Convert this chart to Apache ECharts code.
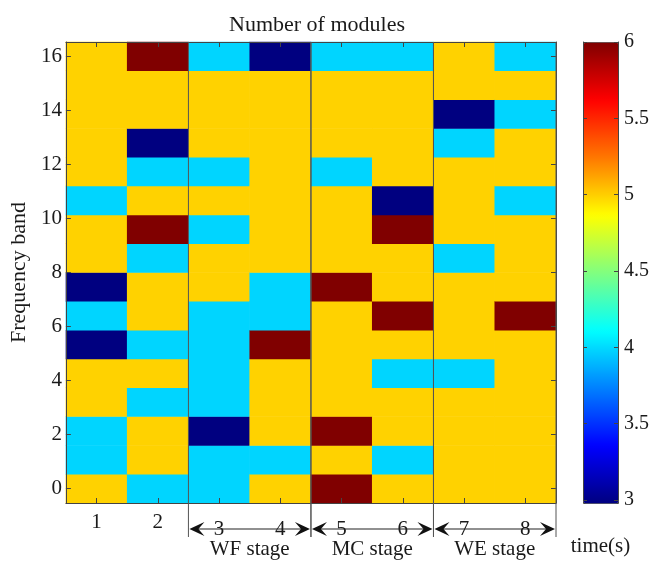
<!DOCTYPE html>
<html>
<head>
<meta charset="utf-8">
<script src="https://cdn.jsdelivr.net/npm/echarts@6/dist/echarts.min.js"></script>
<style>
  html, body { margin: 0; padding: 0; background: #fff; }
  #chart { width: 654px; height: 562px; }
</style>
</head>
<body>
<div id="chart"></div>
<script>
// modules along x, frequency bands along y (band 0 at the bottom)
const modules = ['1', '2', '3', '4', '5', '6', '7', '8']
const bandCount = 16
const bandTicks = [0, 2, 4, 6, 8, 10, 12, 14, 16]
const colorTicks = [3, 3.5, 4, 4.5, 5, 5.5, 6]

// time(s) of each module, listed from band 0 up to the top band
const module1 = [5, 4, 4, 5, 5, 3, 4, 3, 5, 5, 4, 5, 5, 5, 5, 5]
const module2 = [4, 5, 5, 4, 5, 4, 5, 5, 4, 6, 5, 4, 3, 5, 5, 6]
const module3 = [4, 4, 3, 4, 4, 4, 4, 5, 5, 4, 5, 4, 5, 5, 5, 4]
const module4 = [5, 4, 5, 5, 5, 6, 4, 4, 5, 5, 5, 5, 5, 5, 5, 3]
const module5 = [6, 5, 6, 5, 5, 5, 5, 6, 5, 5, 5, 4, 5, 5, 5, 4]
const module6 = [5, 4, 5, 5, 4, 5, 6, 5, 5, 6, 3, 5, 5, 5, 5, 4]
const module7 = [5, 5, 5, 5, 4, 5, 5, 5, 4, 5, 5, 5, 4, 3, 5, 5]
const module8 = [5, 5, 5, 5, 5, 5, 6, 5, 5, 5, 4, 5, 5, 4, 5, 4]

// stages group the modules (indices into modules)
const stageNames = ['WF stage', 'MC stage', 'WE stage']
const stageModules = [[2, 3], [4, 5], [6, 7]]

const jet = ['#000080', '#0000FF', '#0080FF', '#00FFFF', '#80FF80', '#FFFF00', '#FF7800', '#FF0000', '#800000']
const font = 'Liberation Serif'
const ink = '#1a1a1a'

const allModules = [module1, module2, module3, module4, module5, module6, module7, module8]
const heatData = []
allModules.forEach((col, i) => {
  col.forEach((v, j) => heatData.push([i, j, v]))
})
const bands = []
for (let j = 0; j < bandCount; j++) bands.push(String(j))

// rows are evenly spread from 0 to 16, so half a row pads each end
const rowStep = 16 / (bandCount - 1)

const myChart = echarts.init(document.getElementById('chart'))

const option = {
  animation: false,
  title: {
    text: 'Number of modules',
    left: 312,
    top: 9,
    textAlign: 'center',
    textStyle: { fontFamily: font, fontSize: 22, fontWeight: 'normal', color: ink }
  },
  grid: [
    { left: 65, top: 42, width: 491, height: 461 },
    { left: 583, top: 42, width: 35, height: 461 }
  ],
  xAxis: [
    {
      type: 'category',
      gridIndex: 0,
      data: modules,
      position: 'bottom',
      z: 10,
      axisLine: { show: true, onZero: false, lineStyle: { color: '#444', width: 1 } },
      axisTick: { show: true, inside: true, alignWithLabel: true, interval: 0, length: 5, lineStyle: { color: '#444' } },
      axisLabel: {
        interval: 0,
        margin: 9,
        fontFamily: font,
        fontSize: 21,
        color: ink,
        formatter: (v) => (Number(v) >= 3 ? '{low|' + v + '}' : v),
        rich: { low: { fontFamily: font, fontSize: 21, color: ink, padding: [7, 0, 0, 0] } }
      }
    },
    {
      type: 'category',
      gridIndex: 0,
      data: modules,
      position: 'top',
      z: 10,
      axisLine: { show: true, onZero: false, lineStyle: { color: '#444', width: 1 } },
      axisTick: { show: true, inside: true, alignWithLabel: true, interval: 0, length: 5, lineStyle: { color: '#444' } },
      axisLabel: { show: false }
    },
    {
      type: 'value',
      gridIndex: 1,
      min: 0,
      max: 1,
      name: 'time(s)',
      nameLocation: 'middle',
      nameGap: 36,
      nameTextStyle: { fontFamily: font, fontSize: 21, color: ink },
      axisLine: { show: false, onZero: false },
      axisTick: { show: false },
      axisLabel: { show: false },
      splitLine: { show: false }
    }
  ],
  yAxis: [
    {
      type: 'category',
      gridIndex: 0,
      data: bands,
      show: false
    },
    {
      type: 'value',
      gridIndex: 0,
      position: 'left',
      min: -rowStep / 2,
      max: 16 + rowStep / 2,
      z: 10,
      name: 'Frequency band',
      nameLocation: 'middle',
      nameGap: 32,
      nameTextStyle: { fontFamily: font, fontSize: 22, color: ink },
      axisLine: { show: true, onZero: false, lineStyle: { color: '#444', width: 1 } },
      axisTick: { show: true, inside: true, length: 5, customValues: bandTicks, lineStyle: { color: '#444' } },
      axisLabel: { margin: 4, fontFamily: font, fontSize: 21, color: ink, customValues: bandTicks },
      splitLine: { show: false }
    },
    {
      type: 'value',
      gridIndex: 0,
      position: 'right',
      min: -rowStep / 2,
      max: 16 + rowStep / 2,
      z: 10,
      axisLine: { show: true, onZero: false, lineStyle: { color: '#444', width: 1 } },
      axisTick: { show: true, inside: true, length: 5, customValues: bandTicks, lineStyle: { color: '#444' } },
      axisLabel: { show: false },
      splitLine: { show: false }
    },
    {
      type: 'value',
      gridIndex: 1,
      position: 'right',
      min: 3,
      max: 6,
      z: 10,
      axisLine: { show: true, onZero: false, lineStyle: { color: '#444', width: 1 } },
      axisTick: { show: true, inside: true, length: 4, customValues: colorTicks, lineStyle: { color: '#444' } },
      axisLabel: { margin: 6, fontFamily: font, fontSize: 20, color: ink, customValues: colorTicks },
      splitLine: { show: false }
    },
    {
      type: 'value',
      gridIndex: 1,
      position: 'left',
      min: 3,
      max: 6,
      z: 10,
      axisLine: { show: true, onZero: false, lineStyle: { color: '#444', width: 1 } },
      axisTick: { show: true, inside: true, length: 4, customValues: colorTicks, lineStyle: { color: '#444' } },
      axisLabel: { show: false },
      splitLine: { show: false }
    }
  ],
  visualMap: {
    type: 'continuous',
    min: 3,
    max: 6,
    seriesIndex: 0,
    calculable: false,
    hoverLink: false,
    orient: 'vertical',
    left: 583,
    top: 42,
    padding: 0,
    itemWidth: 35,
    itemHeight: 461,
    borderColor: '#444',
    borderWidth: 1,
    inRange: { color: jet }
  },
  series: [
    {
      type: 'heatmap',
      xAxisIndex: 0,
      yAxisIndex: 0,
      data: heatData,
      itemStyle: { borderWidth: 0 },
      emphasis: { disabled: true }
    },
    {
      type: 'custom',
      xAxisIndex: 0,
      yAxisIndex: 0,
      clip: false,
      z: 20,
      silent: true,
      data: stageModules,
      renderItem: (params, api) => {
        const cs = params.coordSys
        const bottom = cs.y + cs.height
        const bw = api.size([1, 0])[0]
        const x1 = api.coord([api.value(0), 0])[0] - bw / 2
        const x2 = api.coord([api.value(1), 0])[0] + bw / 2
        const ay = bottom + 26
        const lineStyle = { stroke: '#555', lineWidth: 1 }
        return {
          type: 'group',
          children: [
            { type: 'line', shape: { x1: x1, y1: cs.y, x2: x1, y2: bottom + 34 }, style: lineStyle },
            { type: 'line', shape: { x1: x2, y1: cs.y, x2: x2, y2: bottom + 34 }, style: lineStyle },
            { type: 'line', shape: { x1: x1 + 6, y1: ay, x2: x2 - 6, y2: ay }, style: { stroke: '#222', lineWidth: 1.2 } },
            {
              type: 'polygon',
              shape: { points: [[x1 + 1, ay], [x1 + 16, ay - 7], [x1 + 10, ay], [x1 + 16, ay + 7]] },
              style: { fill: '#111' }
            },
            {
              type: 'polygon',
              shape: { points: [[x2 - 1, ay], [x2 - 16, ay - 7], [x2 - 10, ay], [x2 - 16, ay + 7]] },
              style: { fill: '#111' }
            },
            {
              type: 'text',
              x: (x1 + x2) / 2,
              y: bottom + 46,
              style: {
                text: stageNames[params.dataIndex],
                fontFamily: font,
                fontSize: 21,
                fill: ink,
                align: 'center',
                verticalAlign: 'middle'
              }
            }
          ]
        }
      }
    }
  ]
}

myChart.setOption(option)
</script>
</body>
</html>
